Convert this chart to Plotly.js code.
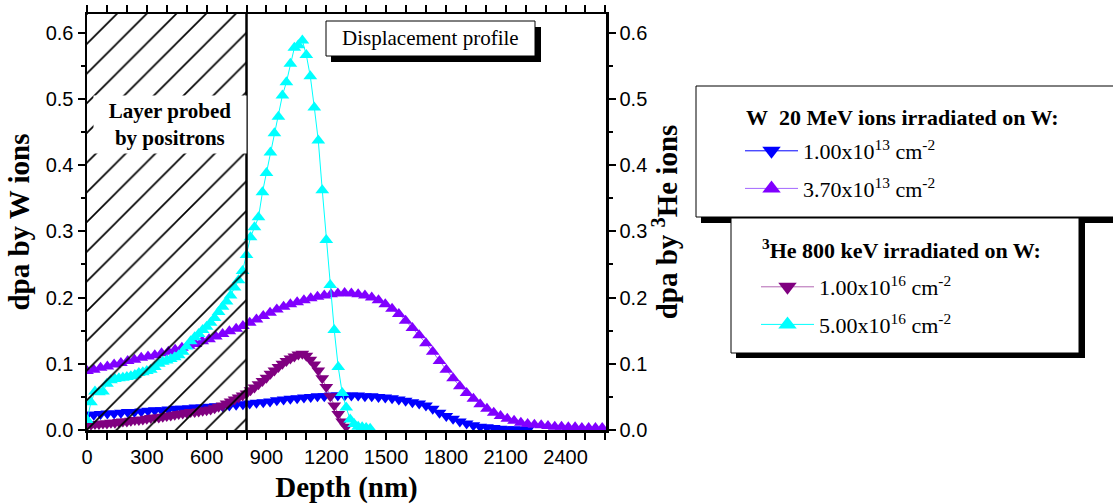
<!DOCTYPE html>
<html><head><meta charset="utf-8">
<script src="https://cdn.plot.ly/plotly-3.0.1.min.js"></script>
<style>html,body{margin:0;padding:0;background:#fff}#chart{width:1113px;height:504px}</style>
</head><body><div id="chart"></div>
<script>
// ---- data ----
const depthW = [0,34,68,102,136,170,204,238,272,306,340,374,408,442,476,510,544,578,612,646,680,714,748,782,816,850,884,918,952,986,1020,1054,1088,1122,1156,1190,1224,1258,1292,1326,1360,1394,1428,1462,1496,1530,1564,1598,1632,1666,1700,1734,1768,1802,1836,1870,1904,1938,1972,2006,2040,2074,2108,2142,2176,2210,2244,2278,2312,2346,2380,2414,2448,2482,2516,2550,2584];
const dpaW_1e13 = [0.023,0.023,0.024,0.025,0.025,0.026,0.027,0.027,0.028,0.029,
  0.030,0.030,0.031,0.032,0.032,0.033,0.034,0.034,0.035,0.036,
  0.036,0.037,0.038,0.039,0.040,0.041,0.042,0.043,0.045,0.046,
  0.047,0.048,0.049,0.050,0.051,0.051,0.052,0.052,0.052,0.052,
  0.052,0.051,0.051,0.050,0.049,0.048,0.046,0.044,0.042,0.040,
  0.037,0.032,0.026,0.021,0.017,0.013,0.010,0.007,0.005,0.004,
  0.003,0.002,0.001,0.001,0.0005,0.0002];
const dpaW_37e13 = [0.089,0.091,0.094,0.096,0.099,0.101,0.104,0.106,0.109,0.111,
  0.113,0.116,0.118,0.121,0.124,0.127,0.130,0.134,0.137,0.141,
  0.145,0.149,0.153,0.157,0.162,0.167,0.172,0.177,0.182,0.186,
  0.190,0.193,0.196,0.199,0.201,0.203,0.205,0.206,0.207,0.206,
  0.205,0.203,0.200,0.196,0.190,0.183,0.175,0.165,0.154,0.143,
  0.131,0.118,0.104,0.091,0.078,0.066,0.056,0.047,0.039,0.032,
  0.026,0.021,0.017,0.014,0.011,0.009,0.008,0.007,0.006,0.005,
  0.005,0.004,0.004,0.003,0.003,0.003,0.003];
const depthHe = [0,20,40,60,80,100,120,140,160,180,200,220,240,260,280,300,320,340,360,380,400,420,440,460,480,500,520,540,560,580,600,620,640,660,680,700,720,740,760,780,800,820,840,860,880,900,920,940,960,980,1000,1020,1040,1060,1080,1100,1120,1140,1160,1180,1200,1220,1240,1260,1280,1300,1320,1340,1360,1380,1400,1420];
const dpaHe_1e16 = [0.008,0.008,0.009,0.009,0.010,0.010,0.011,0.011,0.012,0.013,
  0.013,0.014,0.015,0.015,0.016,0.017,0.018,0.019,0.019,0.020,
  0.021,0.022,0.023,0.024,0.025,0.026,0.027,0.027,0.028,0.029,
  0.030,0.031,0.033,0.035,0.037,0.040,0.043,0.046,0.049,0.052,
  0.055,0.060,0.064,0.069,0.074,0.079,0.085,0.090,0.095,0.100,
  0.104,0.108,0.111,0.114,0.115,0.112,0.106,0.099,0.090,0.078,
  0.065,0.051,0.037,0.024,0.013,0.005];
const dpaHe_5e16 = [0.015,0.042,0.058,0.057,0.058,0.070,0.075,0.077,0.078,0.079,
  0.080,0.081,0.083,0.086,0.087,0.089,0.091,0.095,0.100,0.103,
  0.105,0.107,0.110,0.113,0.118,0.126,0.134,0.140,0.145,0.151,
  0.156,0.162,0.169,0.178,0.186,0.194,0.203,0.215,0.226,0.240,
  0.264,0.291,0.306,0.321,0.359,0.388,0.419,0.448,0.473,0.505,
  0.525,0.553,0.577,0.581,0.588,0.566,0.534,0.487,0.437,0.362,
  0.287,0.219,0.151,0.095,0.056,0.034,0.016,0.009,0.005,0.004,
  0.003,0.002];
const probedLayer = [0, 800];   // depth range probed by positrons (nm)
const seriesNames = ['1.00x10<sup>13</sup> cm<sup>-2</sup>','3.70x10<sup>13</sup> cm<sup>-2</sup>',
                     '1.00x10<sup>16</sup> cm<sup>-2</sup>','5.00x10<sup>16</sup> cm<sup>-2</sup>'];
const groupTitles = ['<b>W\u00a0 20 MeV ions irradiated on W:</b>', '<b><sup>3</sup>He 800 keV irradiated on W:</b>'];

// ---- layout geometry ----
const SERIF = 'Liberation Serif, Times New Roman, serif';
const SANS = 'Liberation Sans, Arial, sans-serif';
const L = 87, R = 606, T = 14, B = 430;
const XMAX = 2603, YMAX = 0.628;
const px = x => (x - L) / (R - L);
const py = y => (B - y) / (B - T);

const col = {blue:'#0000FF', violet:'#8000FF', violetLine:'#A366FF', plum:'#800080', plumLine:'#B366B3', cyan:'#00FFFF'};

function series(x, y, sym, c, lc, yaxis) {
  return {x, y, type:'scatter', mode:'lines+markers', yaxis, showlegend:false, hoverinfo:'skip',
    line:{color:lc, width:1}, marker:{symbol:sym, size:12, color:c, line:{width:0}}};
}
function legendEntry(name, sym, c, lc, legend) {
  return {x:[null], y:[null], type:'scatter', mode:'lines+markers', name, legend, legendgroup:name,
    line:{color:lc, width:1}, marker:{symbol:sym, size:16, color:c}};
}

const traces = [
  series(depthW, dpaW_1e13, 'triangle-down', col.blue, col.blue, 'y'),
  series(depthW, dpaW_37e13, 'triangle-up', col.violet, col.violetLine, 'y'),
  series(depthHe, dpaHe_1e16, 'triangle-down', col.plum, col.plumLine, 'y2'),
  series(depthHe, dpaHe_5e16, 'triangle-up', col.cyan, col.cyan, 'y2'),
  {x:[probedLayer[0],probedLayer[1],probedLayer[1],probedLayer[0],probedLayer[0]],
   y:[0,0,YMAX,YMAX,0], yaxis:'y2', type:'scatter', mode:'lines', fill:'toself',
   fillcolor:'rgba(0,0,0,0)', line:{width:0}, showlegend:false, hoverinfo:'skip',
   fillpattern:{shape:'/', size:21, solidity:0.08, fgcolor:'#000', bgcolor:'rgba(0,0,0,0)'}},
  legendEntry(seriesNames[0], 'triangle-down', col.blue, col.blue, 'legend'),
  legendEntry(seriesNames[1], 'triangle-up', col.violet, col.violetLine, 'legend'),
  legendEntry(seriesNames[2], 'triangle-down', col.plum, col.plumLine, 'legend2'),
  legendEntry(seriesNames[3], 'triangle-up', col.cyan, col.cyan, 'legend2')
];

const axisBase = {showline:true, linecolor:'#000', linewidth:2.5, ticks:'outside', ticklen:7, tickwidth:2,
  tickcolor:'#000', showgrid:false, zeroline:false, tickfont:{family:SANS, size:20, color:'#000'}};
const minorY = {dtick:0.05, ticks:'outside', ticklen:4, tickwidth:2, tickcolor:'#000', showgrid:false};
const titleFont = {family:SERIF, size:29, color:'#000'};
const legendFont = {family:SERIF, size:22, color:'#000'};

function rect(x0, y0, x1, y1, fill, lw) {
  return {type:'rect', xref:'paper', yref:'paper', x0:px(x0), x1:px(x1), y0:py(y1), y1:py(y0),
    fillcolor:fill, line:{color:'#000', width:lw}, layer:'above'};
}
function legendBox(x, y) {
  return {x:px(x), y:py(y), xanchor:'left', yanchor:'top', bgcolor:'rgba(0,0,0,0)', borderwidth:0,
    font:legendFont, itemwidth:53, tracegroupgap:6, traceorder:'grouped'};
}

const layout = {
  width:1113, height:504, paper_bgcolor:'#fff', plot_bgcolor:'#fff',
  margin:{l:L, r:1113-R, t:T, b:504-B, pad:0},
  font:{family:SERIF, color:'#000'},
  xaxis:Object.assign({}, axisBase, {range:[0,XMAX], tick0:0, dtick:300, mirror:'allticks',
    minor:{dtick:100, ticks:'outside', ticklen:4, tickwidth:2, tickcolor:'#000', showgrid:false},
    title:{text:'<b>Depth (nm)</b>', font:titleFont, standoff:19}}),
  yaxis:Object.assign({}, axisBase, {range:[0,YMAX], tick0:0, dtick:0.1, tickformat:'.1f', minor:minorY,
    title:{text:'<b>dpa by W ions</b>', font:titleFont, standoff:8}}),
  yaxis2:Object.assign({}, axisBase, {range:[0,YMAX], tick0:0, dtick:0.1, tickformat:'.1f', minor:minorY,
    overlaying:'y', side:'right', title:{text:'<b>dpa by <sup>3</sup>He ions</b>', font:titleFont, standoff:0}}),
  legend:legendBox(740, 130),
  legend2:legendBox(756, 266),
  shapes:[
    {type:'line', xref:'x', yref:'paper', x0:probedLayer[1], x1:probedLayer[1], y0:0, y1:1,
     line:{color:'#000', width:2.5}, layer:'above'},
    rect(331, 27, 541, 62, '#000', 0),
    rect(326, 21, 535, 56, '#fff', 1),
    rect(701, 92, 1130, 223, '#000', 0),
    rect(696, 86, 1130, 217, '#fff', 1),
    rect(736, 223, 1085, 358, '#000', 0),
    rect(731, 218, 1079, 353, '#fff', 1)
  ],
  annotations:[
    {xref:'x', yref:'y', x:415, y:0.461, text:'<b>Layer probed<br>by positrons</b>', showarrow:false,
     xanchor:'center', yanchor:'middle',
     font:{family:SERIF, size:21, color:'#000'}, bgcolor:'#fff', width:150, height:55},
    {xref:'paper', yref:'paper', x:px(430.5), y:py(38.5), xanchor:'center', yanchor:'middle',
     text:'Displacement profile', showarrow:false, font:{family:SERIF, size:21, color:'#000'}},
    {xref:'paper', yref:'paper', x:px(744), y:py(117), xanchor:'left', yanchor:'middle',
     text:groupTitles[0], showarrow:false, font:legendFont},
    {xref:'paper', yref:'paper', x:px(760), y:py(249), xanchor:'left', yanchor:'middle',
     text:groupTitles[1], showarrow:false, font:legendFont}
  ]
};

Plotly.newPlot('chart', traces, layout, {staticPlot:true, displayModeBar:false});
</script></body></html>
